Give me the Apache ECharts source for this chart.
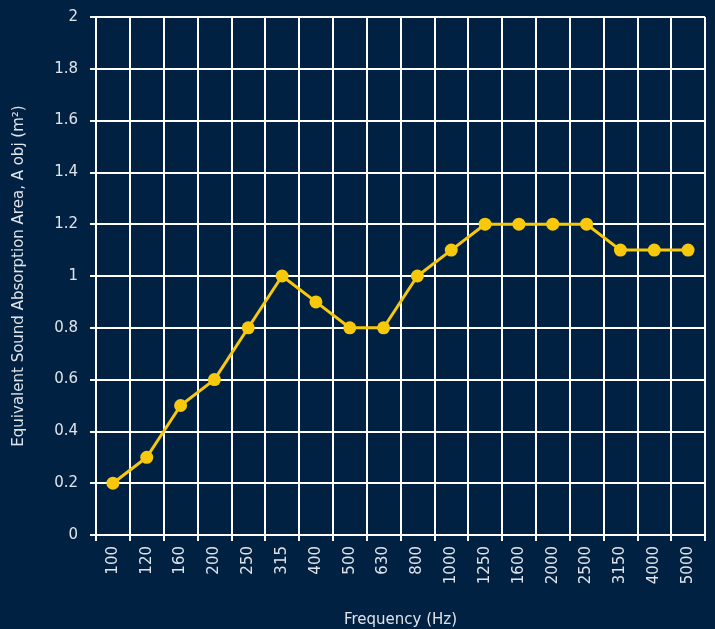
<!DOCTYPE html>
<html>
<head>
<meta charset="utf-8">
<script src="https://cdn.jsdelivr.net/npm/echarts@6/dist/echarts.min.js"></script>
<style>
html, body { margin: 0; padding: 0; background: #002142; }
#chart { width: 715px; height: 629px; }
</style>
</head>
<body>
<div id="chart"></div>
<script>
const frequencies = ['100', '120', '160', '200', '250', '315', '400', '500', '630', '800',
	'1000', '1250', '1600', '2000', '2500', '3150', '4000', '5000']
const absorption = [0.2, 0.3, 0.5, 0.6, 0.8, 1.0, 0.9, 0.8, 0.8, 1.0, 1.1, 1.2, 1.2, 1.2, 1.2, 1.1, 1.1, 1.1]

const textColor = '#dfe4ea'
const gridColor = '#ffffff'
const font = '"DejaVu Sans", sans-serif'

const chart = echarts.init(document.getElementById('chart'))

chart.setOption({
	backgroundColor: '#002142',
	animation: false,
	grid: {
		left: 96,
		right: 10,
		top: 17,
		bottom: 94,
		containLabel: false,
		outerBoundsMode: 'none'
	},
	xAxis: {
		type: 'category',
		data: frequencies,
		boundaryGap: true,
		name: 'Frequency (Hz)',
		nameLocation: 'middle',
		nameGap: 78,
		nameTextStyle: { color: textColor, fontSize: 15, fontFamily: font },
		axisLine: { lineStyle: { color: gridColor, width: 2 } },
		axisTick: { show: true, length: 6, lineStyle: { color: gridColor, width: 2 } },
		axisLabel: { color: textColor, fontSize: 15, fontFamily: font, rotate: 90, margin: 11 },
		splitLine: { show: true, lineStyle: { color: gridColor, width: 2 } }
	},
	yAxis: {
		type: 'value',
		min: 0,
		max: 2,
		interval: 0.2,
		name: 'Equivalent Sound Absorption Area, A obj (m²)',
		nameLocation: 'middle',
		nameGap: 69,
		nameTextStyle: { color: textColor, fontSize: 15, fontFamily: font },
		axisLine: { show: true, lineStyle: { color: gridColor, width: 2 } },
		axisTick: { show: true, length: 6, lineStyle: { color: gridColor, width: 2 } },
		axisLabel: { color: textColor, fontSize: 15, fontFamily: font, margin: 18 },
		splitLine: { show: true, lineStyle: { color: gridColor, width: 2 } }
	},
	series: [
		{
			type: 'line',
			data: absorption,
			symbol: 'circle',
			symbolSize: 13,
			itemStyle: { color: '#f7c80c' },
			lineStyle: { color: '#f7c80c', width: 3 }
		}
	]
})
</script>
</body>
</html>
